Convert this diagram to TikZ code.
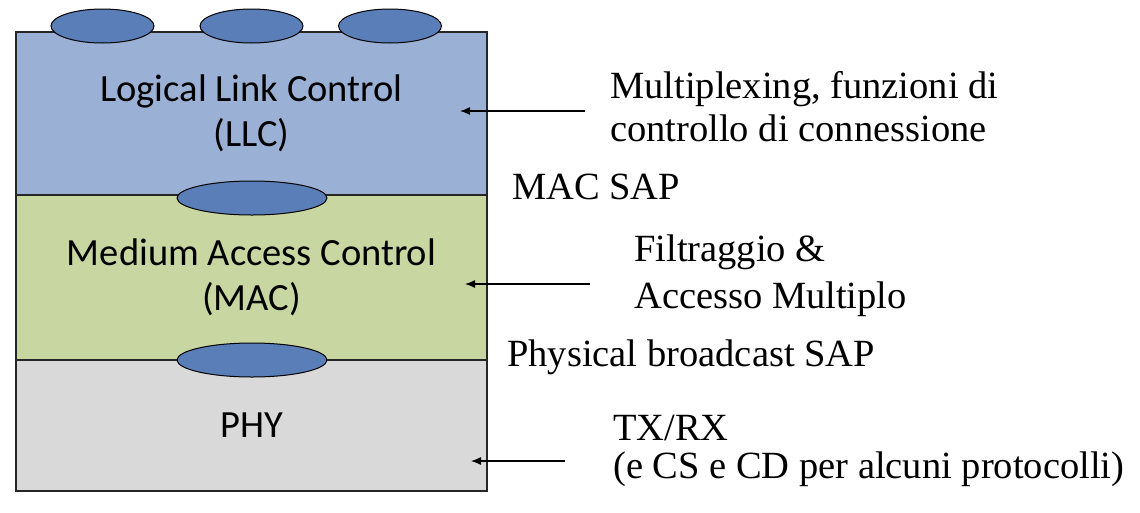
\documentclass[tikz,border=0pt]{standalone}
\usepackage{fontspec}
\setmainfont{Liberation Serif}
\newfontfamily\carl{Carlito}
\usetikzlibrary{shapes.geometric,arrows.meta}
\definecolor{llcblue}{HTML}{9AB1D5}
\definecolor{macgreen}{HTML}{C8D6A2}
\definecolor{phygray}{HTML}{D9D9D9}
\definecolor{sapblue}{HTML}{5A7EB8}
\begin{document}
\begin{tikzpicture}[x=1pt,y=-1pt,
 layer/.style={draw=black!85, line width=1.3pt, minimum width=471pt, inner sep=0pt, font=\carl\fontsize{38.5}{45}\selectfont, align=center},
 sap/.style={ellipse, draw=black, line width=1pt, fill=sapblue, inner sep=0pt},
 topsap/.style={sap, minimum width=103pt, minimum height=34pt},
 midsap/.style={sap, minimum width=150pt, minimum height=34pt},
 note/.style={align=left, inner sep=0pt, anchor=base west},
 arr/.style={-{Latex[length=10pt,width=8pt]}, line width=1.3pt}]
\useasboundingbox (0,0) rectangle (1140,512);
\fill[white] (0,0) rectangle (1140,512);
\node[layer, fill=llcblue, minimum height=163pt] (llc) at (251.5,113.5) {Logical Link Control\\(LLC)};
\node[layer, fill=macgreen, minimum height=165pt] (mac) at (251.5,277.5) {Medium Access Control\\(MAC)};
\node[layer, fill=phygray, minimum height=131pt] (phy) at (251.5,425.5) {PHY};
\node[topsap] (s1) at (102.5,26) {};
\node[topsap] (s2) at (251.5,26) {};
\node[topsap] (s3) at (390,26) {};
\node[midsap] (macsap) at (252,198) {};
\node[midsap] (physap) at (252,360) {};
\node[note, font=\fontsize{38.5}{43}\selectfont] (t1) at (610,141) {Multiplexing, funzioni di\\controllo di connessione};
\node[note, font=\fontsize{38.5}{43}\selectfont] (t2) at (512,199) {MAC SAP};
\node[note, font=\fontsize{38.5}{47}\selectfont] (t3) at (634,308) {Filtraggio \&\\Accesso Multiplo};
\node[note, font=\fontsize{38.5}{43}\selectfont] (t4) at (507,366) {Physical broadcast SAP};
\node[note, font=\fontsize{38.5}{38}\selectfont] (t5) at (613,478) {TX/RX\\(e CS e CD per alcuni protocolli)};
\coordinate (a1s) at (585,111);
\coordinate (a1e) at (460,111);
\coordinate (a2s) at (590,284);
\coordinate (a2e) at (465,284);
\coordinate (a3s) at (565,461);
\coordinate (a3e) at (471,461);
\draw[arr] (a1s) -- (a1e);
\draw[arr] (a2s) -- (a2e);
\draw[arr] (a3s) -- (a3e);
\end{tikzpicture}
\end{document}
